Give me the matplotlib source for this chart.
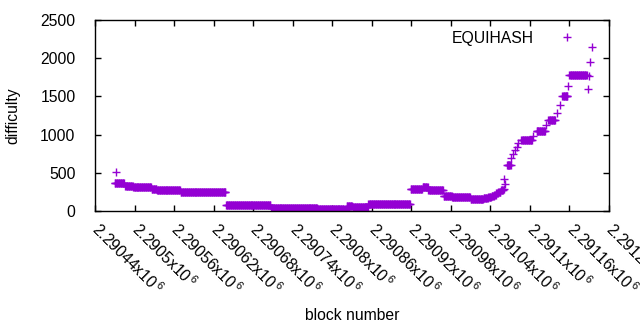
#!/usr/bin/env python
"""Difficulty per block (EQUIHASH), gnuplot-style scatter of '+' marks."""

import matplotlib

matplotlib.use("Agg")
import matplotlib.pyplot as plt
import numpy as np
from matplotlib.ticker import FuncFormatter, MultipleLocator

# Plateaus: every block in [start, end] has the same difficulty.
seg_start = [
    2290472, 2290470, 2290486, 2290498, 2290507, 2290526, 2290534, 2290570,
    2290639, 2290707, 2290778, 2290818, 2290822, 2290831, 2290854, 2290855,
    2290919, 2290937, 2290946, 2290969, 2290982, 2291010, 2291030, 2291037,
    2291042, 2291046, 2291049, 2291052, 2291056, 2291060, 2291061, 2291062,
    2291065, 2291072, 2291075, 2291078, 2291080, 2291082, 2291087, 2291105,
    2291110, 2291125, 2291128, 2291141, 2291145, 2291149, 2291158, 2291160,
    2291188, 2291190, 2291191, 2291194,
]
seg_end = [
    2290472, 2290484, 2290497, 2290506, 2290525, 2290533, 2290569, 2290638,
    2290706, 2290777, 2290817, 2290821, 2290830, 2290853, 2290854, 2290918,
    2290936, 2290945, 2290968, 2290981, 2291009, 2291029, 2291036, 2291041,
    2291045, 2291048, 2291051, 2291055, 2291059, 2291060, 2291061, 2291062,
    2291071, 2291072, 2291075, 2291078, 2291080, 2291082, 2291103, 2291105,
    2291123, 2291125, 2291138, 2291141, 2291145, 2291157, 2291158, 2291186,
    2291188, 2291190, 2291191, 2291194,
]
seg_level = [
    514, 363, 331, 318, 310, 288, 279, 245,
    75, 37, 22, 14, 61, 48, 5, 88,
    284, 310, 271, 200, 187, 160, 165, 180,
    195, 212, 232, 255, 275, 284, 419, 355,
    600, 690, 742, 798, 842, 894, 925, 978,
    1042, 1126, 1197, 1283, 1388, 1505, 1636, 1780,
    1593, 1767, 1944, 2143,
]

x_ticks = np.arange(2290440, 2291221, 60)
COLOR = "#9400d3"


def expand(starts, ends, levels):
    blocks, diffs = [], []
    for s, e, v in zip(starts, ends, levels):
        b = np.arange(s, e + 1)
        blocks.append(b)
        diffs.append(np.full(len(b), v))
    return np.concatenate(blocks), np.concatenate(diffs)


def main():
    plt.rcParams["font.family"] = ["Liberation Sans", "DejaVu Sans"]
    plt.rcParams["font.size"] = 11.3
    plt.rcParams["mathtext.default"] = "regular"

    blocks, diffs = expand(seg_start, seg_end, seg_level)

    fig = plt.figure(figsize=(6.4, 3.3), dpi=100)
    ax = fig.add_axes([95 / 640, 1 - 211 / 330, 514 / 640, 191 / 330])
    ax.plot(blocks, diffs, linestyle="none", marker="+", markersize=6.2,
            markeredgewidth=1.0, color=COLOR, label="EQUIHASH")

    ax.set_xlim(x_ticks[0], x_ticks[-1])
    ax.set_ylim(0, 2500)
    ax.set_xticks(x_ticks)
    ax.xaxis.set_major_formatter(
        FuncFormatter(lambda v, _: f"{v / 1e6:g}x10$^{{\\,6}}$"))
    ax.yaxis.set_major_locator(MultipleLocator(500))
    ax.tick_params(direction="in", length=4, width=1, top=True, right=True)
    ax.tick_params(axis="y", pad=14)
    ax.tick_params(axis="x", pad=11)
    for lbl in ax.get_xticklabels():
        lbl.set_rotation(-45)
        lbl.set_ha("left")
        lbl.set_va("center")
        lbl.set_rotation_mode("anchor")
    for sp in ax.spines.values():
        sp.set_linewidth(1)

    ax.set_ylabel("difficulty", labelpad=14)
    fig.text(352 / 640, 1 - 316 / 330, "block number", ha="center", va="center")

    ax.legend(loc="upper right", markerfirst=False, frameon=False,
              handlelength=1.0, handletextpad=1.6, borderaxespad=0.3,
              bbox_to_anchor=(0.955, 1.0))

    fig.savefig("out.png", dpi=100)
    plt.close(fig)


if __name__ == "__main__":
    main()
